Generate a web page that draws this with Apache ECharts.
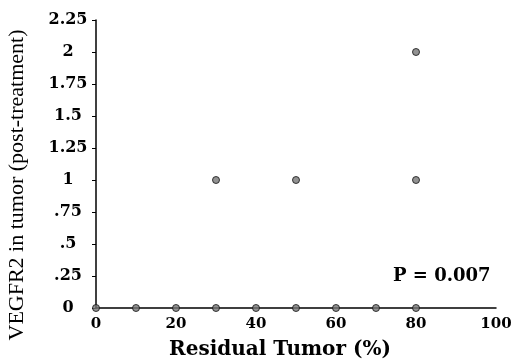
<!DOCTYPE html>
<html><head><meta charset="utf-8">
<script src="https://cdn.jsdelivr.net/npm/echarts@6/dist/echarts.min.js"></script>
<style>html,body{margin:0;padding:0;background:#fff}#c{width:523px;height:359px}</style>
</head><body><div id="c"></div>
<script>
const residualTumor = [0, 10, 20, 30, 40, 50, 60, 70, 80, 30, 50, 80, 80];
const vegfr2 = [0, 0, 0, 0, 0, 0, 0, 0, 0, 1, 1, 1, 2];
const yTickLabels = {0:'0',0.25:'.25',0.5:'.5',0.75:'.75',1:'1',1.25:'1.25',1.5:'1.5',1.75:'1.75',2:'2',2.25:'2.25'};
const xTitle = 'Residual Tumor (%)';
const yTitle = 'VEGFR2 in tumor (post-treatment)';
const pText = 'P = 0.007';

const serif = 'DejaVu Serif';
const chart = echarts.init(document.getElementById('c'));
chart.setOption({
  animation: false,
  backgroundColor: '#fff',
  grid: {left: 96, right: 27, top: 20, bottom: 51, containLabel: false, outerBoundsMode: 'none'},
  xAxis: {
    type: 'value', min: 0, max: 100, interval: 20,
    axisLine: {lineStyle: {color: '#000', width: 1.5}},
    axisTick: {show: false},
    splitLine: {show: false},
    axisLabel: {color: '#000', fontFamily: serif, fontWeight: 'bold', fontSize: 15, margin: 9}
  },
  yAxis: {
    type: 'value', min: 0, max: 2.25, interval: 0.25,
    axisLine: {show: true, lineStyle: {color: '#000', width: 1.5}},
    axisTick: {show: true, length: 4, lineStyle: {color: '#000'}},
    splitLine: {show: false},
    axisLabel: {color: '#000', fontFamily: serif, fontWeight: 'bold', fontSize: 16, align: 'center', margin: 28,
      formatter: v => yTickLabels[Math.round(v*100)/100] ?? String(v)}
  },
  series: [{
    type: 'scatter',
    data: residualTumor.map((x, i) => [x, vegfr2[i]]),
    symbolSize: 7,
    itemStyle: {color: '#777', borderColor: '#111', borderWidth: 1},
    clip: false
  }],
  graphic: [{
    type: 'text', left: 393, top: 267,
    style: {text: pText, fill: '#000', font: 'bold 18px "DejaVu Serif"'}
  }, {
    type: 'text', x: 17, y: 185, rotation: Math.PI / 2,
    style: {text: yTitle, fill: '#000', font: '22px "Liberation Serif"', align: 'center', verticalAlign: 'middle'}
  }, {
    type: 'text', x: 280, y: 350,
    style: {text: xTitle, fill: '#000', font: 'bold 20px "DejaVu Serif"', align: 'center', verticalAlign: 'middle'}
  }]
});
</script></body></html>
